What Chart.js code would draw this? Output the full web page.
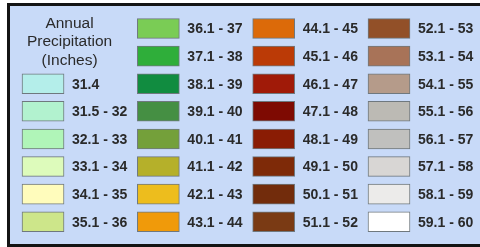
<!DOCTYPE html>
<html>
<head>
<meta charset="utf-8">
<script src="https://cdn.jsdelivr.net/npm/chart.js@4.4.1/dist/chart.umd.min.js"></script>
<style>
  html, body { margin: 0; padding: 0; background: #fff; }
  #wrap { position: relative; width: 480px; height: 247px; }
  #frame { position: absolute; left: 7px; top: 3px; width: 480px; height: 238px;
           border: 3px solid #141414; border-right: none; background: #c8daf8; }
  #legend { position: absolute; left: 0; top: 0; }
</style>
</head>
<body>
<div id="wrap">
  <div id="frame"></div>
  <canvas id="legend" width="480" height="247"></canvas>
</div>
<script>
// precipitation classes (inches), in legend order
var ranges = [
  "31.4", "31.5 - 32", "32.1 - 33", "33.1 - 34", "34.1 - 35", "35.1 - 36",
  "36.1 - 37", "37.1 - 38", "38.1 - 39", "39.1 - 40", "40.1 - 41", "41.1 - 42", "42.1 - 43", "43.1 - 44",
  "44.1 - 45", "45.1 - 46", "46.1 - 47", "47.1 - 48", "48.1 - 49", "49.1 - 50", "50.1 - 51", "51.1 - 52",
  "52.1 - 53", "53.1 - 54", "54.1 - 55", "55.1 - 56", "56.1 - 57", "57.1 - 58", "58.1 - 59", "59.1 - 60"
];
var colors = [
  "#b4eeea", "#b2f2cf", "#b0f5b8", "#ddfbbb", "#fffcbc", "#cde68a",
  "#7acc55", "#2fae3a", "#118c40", "#458f43", "#74a03a", "#b5b02a", "#edbd1d", "#f09a0a",
  "#dc6a09", "#bb3a06", "#a01a08", "#7e0a02", "#8a1c04", "#7e2a08", "#722c0c", "#7a3a14",
  "#925028", "#a87358", "#b59b8a", "#bcbab4", "#c0c0be", "#d8d6d4", "#ecebea", "#ffffff"
];
var titleLines = ["Annual", "Precipitation", "(Inches)"];

// first column starts under the title (row 2), the others hold 8 rows each
var firstColRows = 6;
var rowsPerCol = 8;
var firstColStart = 2;

var points = ranges.map(function(r, i) {
  var col, row;
  if (i < firstColRows) { col = 0; row = i + firstColStart; }
  else { col = Math.floor((i - firstColRows) / rowsPerCol) + 1; row = (i - firstColRows) % rowsPerCol; }
  return { x: col, y: [row - 0.36, row + 0.36] };
});

var labelsPlugin = {
  id: "legendText",
  afterDatasetsDraw: function(chart) {
    var ctx = chart.ctx;
    var meta = chart.getDatasetMeta(0);
    ctx.save();
    ctx.fillStyle = "#2a2a2a";
    ctx.font = "bold 14px 'Liberation Sans', Arial, sans-serif";
    ctx.textAlign = "left";
    ctx.textBaseline = "middle";
    meta.data.forEach(function(bar, i) {
      ctx.fillText(ranges[i], bar.x + bar.width / 2 + 8, bar.y + (bar.base - bar.y) / 2 + 1);
    });
    // title block above the first column
    ctx.font = "15.5px 'Liberation Sans', Arial, sans-serif";
    ctx.textAlign = "center";
    ctx.textBaseline = "alphabetic";
    var cx = chart.scales.x.getPixelForValue(0.23);
    var y0 = chart.scales.y.getPixelForValue(-0.02);
    titleLines.forEach(function(t, k) {
      ctx.fillText(t, cx, y0 + k * 18.5);
    });
    ctx.restore();
  }
};

new Chart(document.getElementById("legend").getContext("2d"), {
  type: "bar",
  data: {
    datasets: [{
      data: points,
      backgroundColor: colors,
      borderColor: "#6f787e",
      borderWidth: 1,
      borderSkipped: false,
      barThickness: 42
    }]
  },
  options: {
    animation: false,
    responsive: false,
    layout: { padding: 0 },
    plugins: { legend: { display: false }, tooltip: { enabled: false } },
    scales: {
      x: { type: "linear", display: false, offset: false, min: -0.373, max: 3.789 },
      y: { type: "linear", display: false, reverse: true, min: -1.033, max: 7.916 }
    }
  },
  plugins: [labelsPlugin]
});
</script>
</body>
</html>
